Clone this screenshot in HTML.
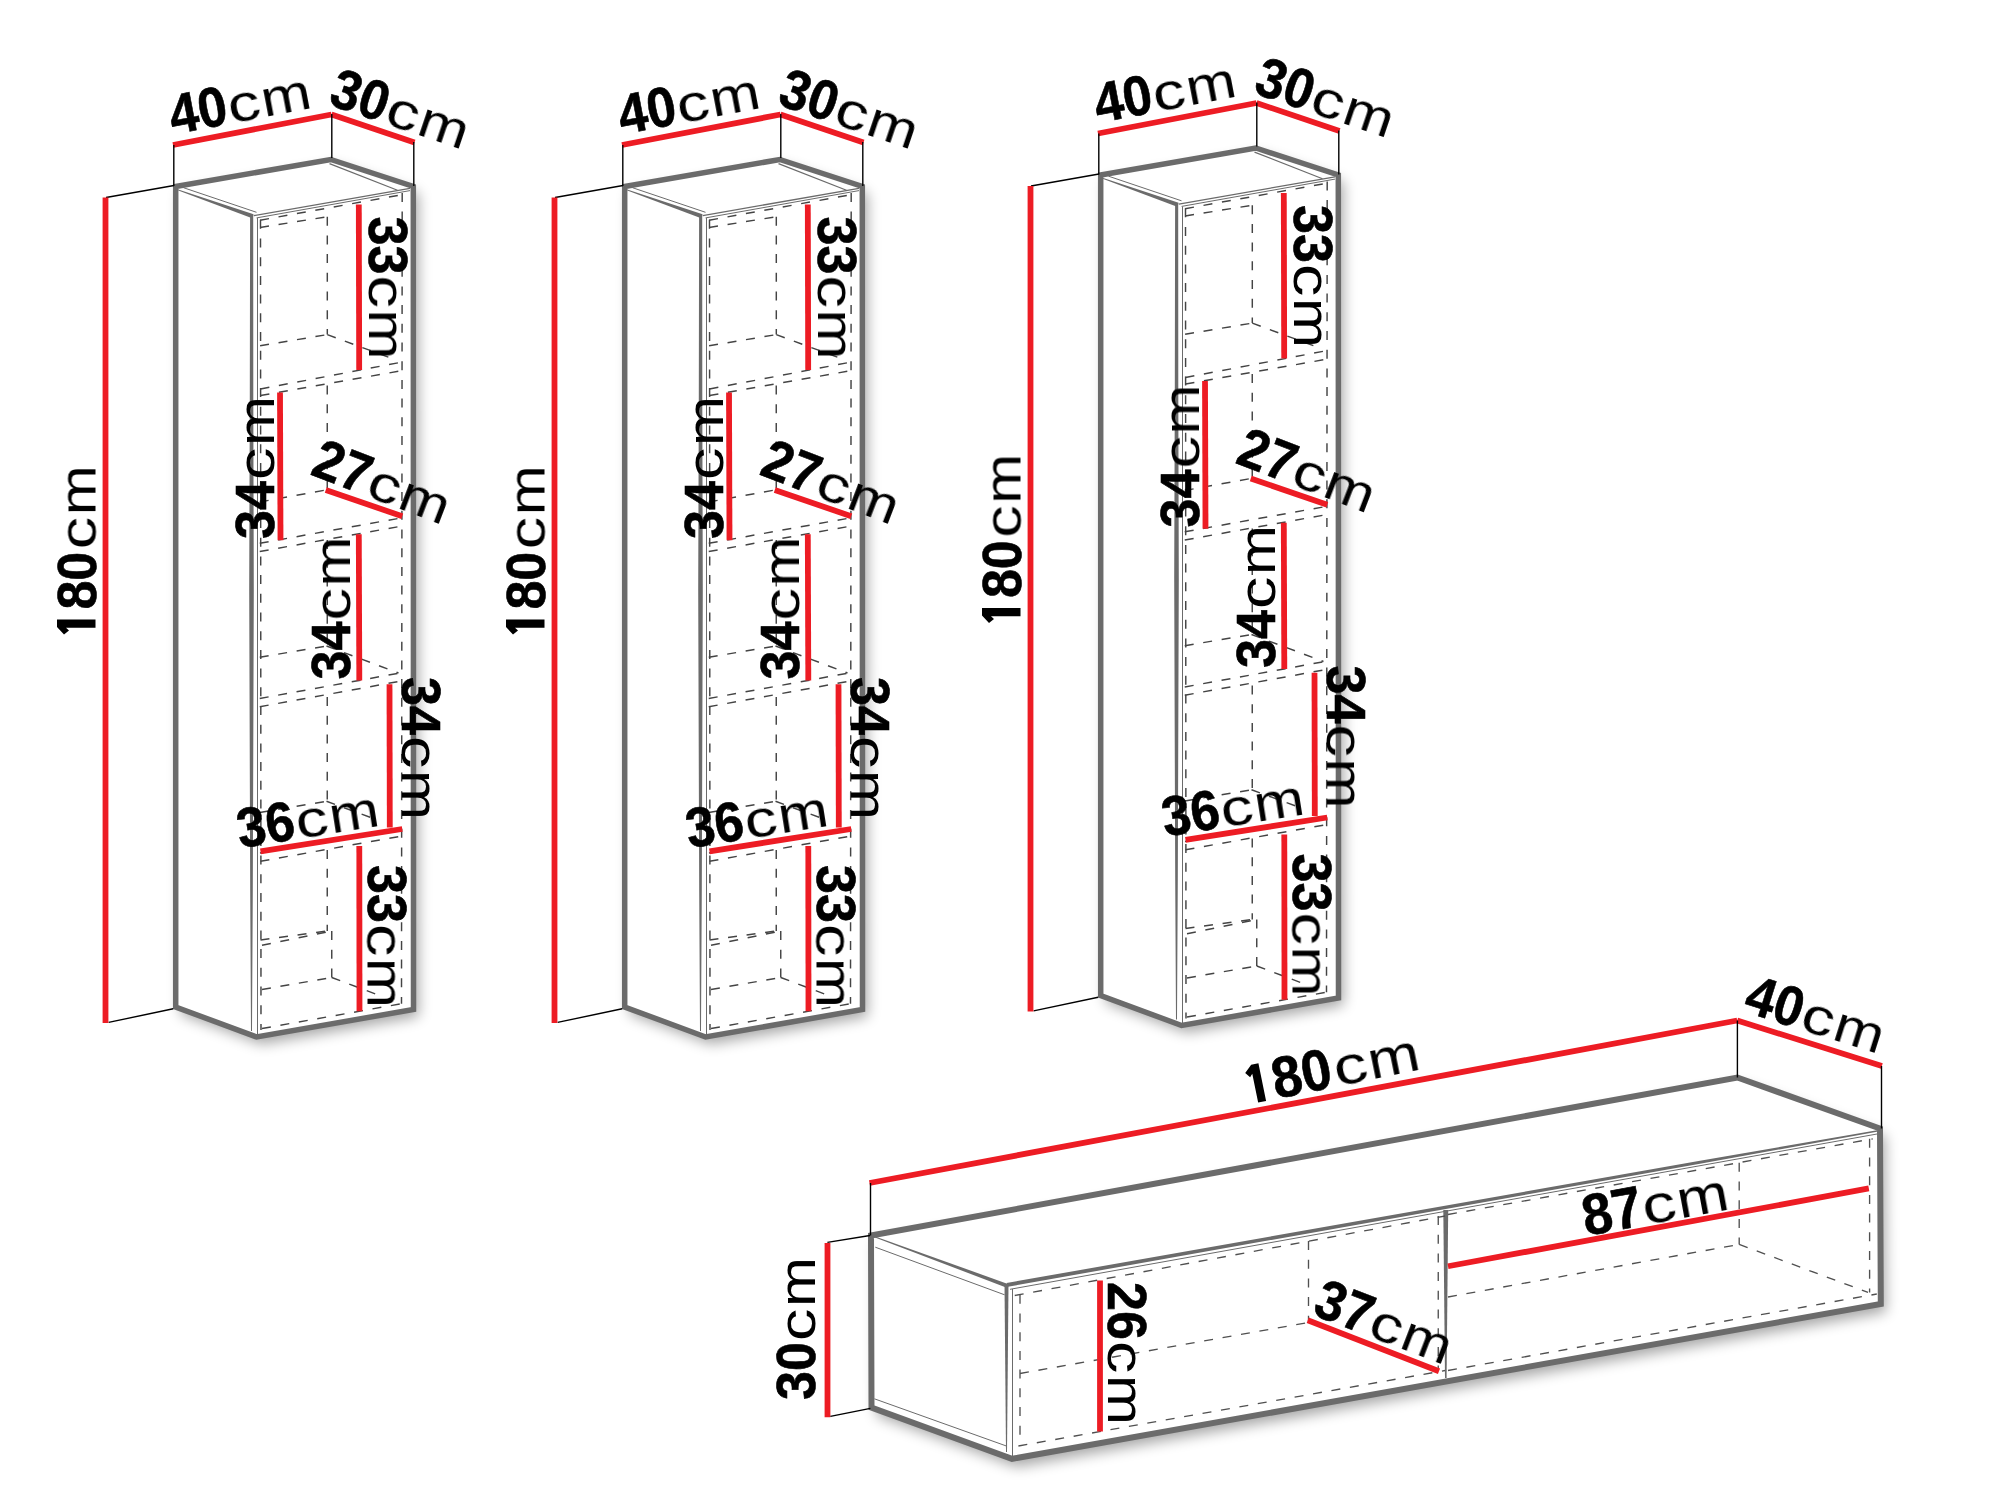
<!DOCTYPE html>
<html><head><meta charset="utf-8"><style>
html,body{margin:0;padding:0;background:#fff;width:2000px;height:1500px;overflow:hidden}
svg{display:block}
text{font-family:"Liberation Sans",sans-serif;fill:#000}
.cm{font-weight:normal}
</style></head><body>
<svg width="2000" height="1500" viewBox="0 0 2000 1500">
<defs><filter id="thin" x="-10%" y="-10%" width="120%" height="120%"><feMorphology operator="erode" radius="0.45"/></filter><filter id="sh" x="-20%" y="-20%" width="140%" height="140%"><feGaussianBlur stdDeviation="7"/></filter></defs>
<rect width="2000" height="1500" fill="#fff"/>
<g id="cab1"><polygon points="175.7,186.5 330.8,159.5 413.3,186.5 413.5,1009.5 256.6,1037 175.7,1007" fill="#000" opacity="0.35" filter="url(#sh)" transform="translate(5 7)"/><polygon points="175.7,186.5 330.8,159.5 413.3,186.5 413.5,1009.5 256.6,1037 175.7,1007" fill="#fff" stroke="#6b6b6b" stroke-width="5.5" stroke-linejoin="miter"/><polygon points="177.5,189.2 253.6,214.2 252.2,218.3 178.3,190.4" fill="#6b6b6b"/><line x1="183.5" y1="187.7" x2="256.5" y2="212.3" stroke="#6b6b6b" stroke-width="1" stroke-linecap="butt"/><line x1="329.5" y1="163.6" x2="397.5" y2="190.3" stroke="#6b6b6b" stroke-width="1.2" stroke-linecap="butt"/><line x1="253.8" y1="215.6" x2="410" y2="188.3" stroke="#6b6b6b" stroke-width="1.3" stroke-linecap="butt"/><line x1="256.6" y1="217.9" x2="410" y2="190.6" stroke="#6b6b6b" stroke-width="1" stroke-linecap="butt"/><polygon points="250.1,215 249.8,400 249.2,590 250.2,890 251.0,1031 252.0,1031 252.8,890 253.8,590 253.3,400 253.2,215" fill="#6b6b6b"/><line x1="257.5" y1="218" x2="257.5" y2="1034.5" stroke="#6b6b6b" stroke-width="1" stroke-linecap="butt"/><line x1="260.1" y1="220.2" x2="402.5" y2="194.6" stroke="#444444" stroke-width="1.45" stroke-linecap="butt" stroke-dasharray="9 9.7"/><line x1="260.5" y1="219.8" x2="261" y2="1030" stroke="#444444" stroke-width="1.45" stroke-linecap="butt" stroke-dasharray="9 9.7"/><line x1="402.2" y1="192.9" x2="401.5" y2="1003.75" stroke="#444444" stroke-width="1.45" stroke-linecap="butt" stroke-dasharray="9 9.7"/><line x1="262" y1="1028.5" x2="401.5" y2="1003.75" stroke="#444444" stroke-width="1.45" stroke-linecap="butt" stroke-dasharray="9 9.7"/><line x1="260.1" y1="227.5" x2="327.3" y2="216.7" stroke="#444444" stroke-width="1.45" stroke-linecap="butt" stroke-dasharray="9 9.7"/><line x1="327.3" y1="216.7" x2="327.3" y2="334.6" stroke="#444444" stroke-width="1.45" stroke-linecap="butt" stroke-dasharray="9 9.7"/><line x1="260.1" y1="345.8" x2="327.3" y2="334.6" stroke="#444444" stroke-width="1.45" stroke-linecap="butt" stroke-dasharray="9 9.7"/><line x1="327.3" y1="334.6" x2="396" y2="360" stroke="#444444" stroke-width="1.45" stroke-linecap="butt" stroke-dasharray="9 9.7"/><line x1="260.5" y1="389" x2="400" y2="362.5" stroke="#444444" stroke-width="1.45" stroke-linecap="butt" stroke-dasharray="9 9.7"/><line x1="260.5" y1="395.5" x2="400" y2="371" stroke="#444444" stroke-width="1.45" stroke-linecap="butt" stroke-dasharray="9 9.7"/><line x1="327.25" y1="385.5" x2="327.25" y2="490" stroke="#444444" stroke-width="1.45" stroke-linecap="butt" stroke-dasharray="9 9.7"/><line x1="259.75" y1="502" x2="325.75" y2="490" stroke="#444444" stroke-width="1.45" stroke-linecap="butt" stroke-dasharray="9 9.7"/><line x1="259.75" y1="543.25" x2="402.25" y2="517.75" stroke="#444444" stroke-width="1.45" stroke-linecap="butt" stroke-dasharray="9 9.7"/><line x1="259.75" y1="551.5" x2="402.25" y2="526" stroke="#444444" stroke-width="1.45" stroke-linecap="butt" stroke-dasharray="9 9.7"/><line x1="327.25" y1="540" x2="327.25" y2="646" stroke="#444444" stroke-width="1.45" stroke-linecap="butt" stroke-dasharray="9 9.7"/><line x1="259.75" y1="657.25" x2="326.5" y2="646" stroke="#444444" stroke-width="1.45" stroke-linecap="butt" stroke-dasharray="9 9.7"/><line x1="326.5" y1="646" x2="398.5" y2="673" stroke="#444444" stroke-width="1.45" stroke-linecap="butt" stroke-dasharray="9 9.7"/><line x1="259.75" y1="698.5" x2="400" y2="673" stroke="#444444" stroke-width="1.45" stroke-linecap="butt" stroke-dasharray="9 9.7"/><line x1="259.75" y1="706.75" x2="400" y2="681.25" stroke="#444444" stroke-width="1.45" stroke-linecap="butt" stroke-dasharray="9 9.7"/><line x1="327.25" y1="697" x2="327.25" y2="801" stroke="#444444" stroke-width="1.45" stroke-linecap="butt" stroke-dasharray="9 9.7"/><line x1="259.75" y1="812.5" x2="326.5" y2="801.25" stroke="#444444" stroke-width="1.45" stroke-linecap="butt" stroke-dasharray="9 9.7"/><line x1="326.5" y1="801.25" x2="377.5" y2="820" stroke="#444444" stroke-width="1.45" stroke-linecap="butt" stroke-dasharray="9 9.7"/><line x1="260" y1="853" x2="402" y2="828" stroke="#444444" stroke-width="1.45" stroke-linecap="butt" stroke-dasharray="9 9.7"/><line x1="260.5" y1="861.25" x2="402" y2="836" stroke="#444444" stroke-width="1.45" stroke-linecap="butt" stroke-dasharray="9 9.7"/><line x1="327.25" y1="850" x2="327.25" y2="931" stroke="#444444" stroke-width="1.45" stroke-linecap="butt" stroke-dasharray="9 9.7"/><line x1="260.5" y1="940" x2="327.25" y2="931" stroke="#444444" stroke-width="1.45" stroke-linecap="butt" stroke-dasharray="9 9.7"/><line x1="262" y1="945.25" x2="331.75" y2="931" stroke="#444444" stroke-width="1.45" stroke-linecap="butt" stroke-dasharray="9 9.7"/><line x1="331.75" y1="931" x2="331.75" y2="977.5" stroke="#444444" stroke-width="1.45" stroke-linecap="butt" stroke-dasharray="9 9.7"/><line x1="262" y1="989.5" x2="331.75" y2="977.5" stroke="#444444" stroke-width="1.45" stroke-linecap="butt" stroke-dasharray="9 9.7"/><line x1="331.75" y1="977.5" x2="377.5" y2="994.75" stroke="#444444" stroke-width="1.45" stroke-linecap="butt" stroke-dasharray="9 9.7"/><line x1="173" y1="145" x2="331.5" y2="114.5" stroke="#ed1c24" stroke-width="5.8" stroke-linecap="butt"/><line x1="331.5" y1="114.5" x2="414.5" y2="142.5" stroke="#ed1c24" stroke-width="5.8" stroke-linecap="butt"/><line x1="173.8" y1="145" x2="173.8" y2="186" stroke="#000" stroke-width="1.4" stroke-linecap="butt"/><line x1="331.8" y1="114" x2="331.8" y2="158" stroke="#000" stroke-width="1.4" stroke-linecap="butt"/><line x1="413.8" y1="142" x2="413.8" y2="186" stroke="#000" stroke-width="1.4" stroke-linecap="butt"/><line x1="106" y1="197.5" x2="174" y2="185.5" stroke="#000" stroke-width="1.4" stroke-linecap="butt"/><line x1="108.6" y1="1022.4" x2="173.2" y2="1008.8" stroke="#000" stroke-width="1.4" stroke-linecap="butt"/><line x1="105.5" y1="197.5" x2="105.5" y2="1023" stroke="#ed1c24" stroke-width="5.8" stroke-linecap="butt"/><line x1="358.8" y1="204.4" x2="359.2" y2="370" stroke="#ed1c24" stroke-width="5.8" stroke-linecap="butt"/><line x1="280" y1="392.5" x2="280.5" y2="540.25" stroke="#ed1c24" stroke-width="5.8" stroke-linecap="butt"/><line x1="358.8" y1="534.25" x2="359.3" y2="680.5" stroke="#ed1c24" stroke-width="5.8" stroke-linecap="butt"/><line x1="389.5" y1="684.25" x2="389.8" y2="827.5" stroke="#ed1c24" stroke-width="5.8" stroke-linecap="butt"/><line x1="260.5" y1="851.3" x2="402.25" y2="829" stroke="#ed1c24" stroke-width="5.8" stroke-linecap="butt"/><line x1="359.3" y1="846" x2="359.5" y2="1011.25" stroke="#ed1c24" stroke-width="5.8" stroke-linecap="butt"/><line x1="325.75" y1="490" x2="402.25" y2="516.25" stroke="#ed1c24" stroke-width="5.8" stroke-linecap="butt"/><g transform="translate(173 134.5) rotate(-10.8)"><text transform="scale(0.93 1)" x="0.00" font-size="56" font-weight="bold" stroke="#000" stroke-width="0.6">40</text><g filter="url(#thin)"><text transform="translate(59.1 0) scale(1.16 0.94)" font-size="56">c</text><text transform="translate(93.1 0) scale(1.07 0.94)" font-size="56">m</text></g></g><g transform="translate(327 104) rotate(18.7)"><text transform="scale(0.93 1)" x="0.00" font-size="56" font-weight="bold" stroke="#000" stroke-width="0.6">30</text><g filter="url(#thin)"><text transform="translate(59.1 0) scale(1.16 0.94)" font-size="56">c</text><text transform="translate(93.1 0) scale(1.07 0.94)" font-size="56">m</text></g></g><g transform="translate(369 216.5) rotate(90)"><text transform="scale(0.93 1)" x="0.00" font-size="56" font-weight="bold" stroke="#000" stroke-width="0.6">33</text><g filter="url(#thin)"><text transform="translate(59.1 0) scale(1.16 0.94)" font-size="56">c</text><text transform="translate(93.1 0) scale(1.07 0.94)" font-size="56">m</text></g></g><g transform="translate(274 539) rotate(-90)"><text transform="scale(0.93 1)" x="0.00" font-size="56" font-weight="bold" stroke="#000" stroke-width="0.6">34</text><g filter="url(#thin)"><text transform="translate(59.1 0) scale(1.16 0.94)" font-size="56">c</text><text transform="translate(93.1 0) scale(1.07 0.94)" font-size="56">m</text></g></g><g transform="translate(309 474) rotate(21)"><text transform="scale(0.93 1)" x="0.00" font-size="56" font-weight="bold" stroke="#000" stroke-width="0.6">27</text><g filter="url(#thin)"><text transform="translate(59.1 0) scale(1.16 0.94)" font-size="56">c</text><text transform="translate(93.1 0) scale(1.07 0.94)" font-size="56">m</text></g></g><g transform="translate(350 679.5) rotate(-90)"><text transform="scale(0.93 1)" x="0.00" font-size="56" font-weight="bold" stroke="#000" stroke-width="0.6">34</text><g filter="url(#thin)"><text transform="translate(59.1 0) scale(1.16 0.94)" font-size="56">c</text><text transform="translate(93.1 0) scale(1.07 0.94)" font-size="56">m</text></g></g><g transform="translate(402 677) rotate(90)"><text transform="scale(0.93 1)" x="0.00" font-size="56" font-weight="bold" stroke="#000" stroke-width="0.6">34</text><g filter="url(#thin)"><text transform="translate(59.1 0) scale(1.16 0.94)" font-size="56">c</text><text transform="translate(93.1 0) scale(1.07 0.94)" font-size="56">m</text></g></g><g transform="translate(240 848) rotate(-9)"><text transform="scale(0.93 1)" x="0.00" font-size="56" font-weight="bold" stroke="#000" stroke-width="0.6">36</text><g filter="url(#thin)"><text transform="translate(59.1 0) scale(1.16 0.94)" font-size="56">c</text><text transform="translate(93.1 0) scale(1.07 0.94)" font-size="56">m</text></g></g><g transform="translate(367.5 865) rotate(90)"><text transform="scale(0.93 1)" x="0.00" font-size="56" font-weight="bold" stroke="#000" stroke-width="0.6">33</text><g filter="url(#thin)"><text transform="translate(59.1 0) scale(1.16 0.94)" font-size="56">c</text><text transform="translate(93.1 0) scale(1.07 0.94)" font-size="56">m</text></g></g><g transform="translate(95.5 635) rotate(-90)"><polygon points="0.5,-31.5 8,-38.5 15.4,-38.5 15.4,0 7.3,0 7.3,-29.5 4.5,-26.5"/><text transform="scale(0.93 1)" x="27.31" font-size="56" font-weight="bold" stroke="#000" stroke-width="0.6">80</text><g filter="url(#thin)"><text transform="translate(85.8 0) scale(1.16 0.94)" font-size="56">c</text><text transform="translate(119.8 0) scale(1.07 0.94)" font-size="56">m</text></g></g></g>
<use href="#cab1" transform="translate(449 0)"/>
<use href="#cab1" transform="translate(925 -11.5)"/>
<polygon points="871,1235.5 1737.4,1077.5 1880,1128.5 1880.8,1304 1012,1458.8 871.5,1407.6" fill="#000" opacity="0.35" filter="url(#sh)" transform="translate(5 8)"/>
<polygon points="871,1235.5 1737.4,1077.5 1880,1128.5 1880.8,1304 1012,1458.8 871.5,1407.6" fill="#fff" stroke="#6b6b6b" stroke-width="6" stroke-linejoin="miter"/>
<polygon points="874.5,1236.2 1006.5,1283.4 1005.5,1287.2 875,1237.6" fill="#6b6b6b"/>
<line x1="875.3" y1="1247.2" x2="1004.6" y2="1294.8" stroke="#6b6b6b" stroke-width="1" stroke-linecap="butt"/>
<line x1="874.4" y1="1398.8" x2="1006.4" y2="1446" stroke="#6b6b6b" stroke-width="1" stroke-linecap="butt"/>
<polygon points="1006.5,1283 1700,1160.8 1877,1130.25 1877,1131.75 1700,1163.8 1006.5,1287" fill="#6b6b6b"/>
<line x1="1010" y1="1289.3" x2="1877" y2="1134" stroke="#6b6b6b" stroke-width="1" stroke-linecap="butt"/>
<polygon points="1004.5,1284 1008.5,1284 1007,1452 1006,1452" fill="#6b6b6b"/>
<line x1="1012.5" y1="1289" x2="1012.5" y2="1456" stroke="#6b6b6b" stroke-width="1" stroke-linecap="butt"/>
<polygon points="1443.3,1210 1448.2,1210 1446.6,1378 1445,1378" fill="#6b6b6b"/>
<line x1="1014.75" y1="1295.5" x2="1445" y2="1216" stroke="#505050" stroke-width="1.35" stroke-linecap="butt" stroke-dasharray="9 9.7"/>
<line x1="1020" y1="1294.8" x2="1020" y2="1437.2" stroke="#505050" stroke-width="1.35" stroke-linecap="butt" stroke-dasharray="9 9.7"/>
<line x1="1438.25" y1="1216" x2="1438.25" y2="1369" stroke="#505050" stroke-width="1.35" stroke-linecap="butt" stroke-dasharray="9 9.7"/>
<line x1="1020" y1="1373.5" x2="1308.5" y2="1322.5" stroke="#505050" stroke-width="1.35" stroke-linecap="butt" stroke-dasharray="9 9.7"/>
<line x1="1308.5" y1="1241" x2="1308.5" y2="1321" stroke="#505050" stroke-width="1.35" stroke-linecap="butt" stroke-dasharray="9 9.7"/>
<line x1="1018.4" y1="1446" x2="1445" y2="1370.5" stroke="#505050" stroke-width="1.35" stroke-linecap="butt" stroke-dasharray="9 9.7"/>
<line x1="1448" y1="1214.5" x2="1872.8" y2="1138.8" stroke="#505050" stroke-width="1.35" stroke-linecap="butt" stroke-dasharray="9 9.7"/>
<line x1="1739.2" y1="1162.8" x2="1739.2" y2="1244.4" stroke="#505050" stroke-width="1.35" stroke-linecap="butt" stroke-dasharray="9 9.7"/>
<line x1="1448" y1="1297" x2="1739.2" y2="1244.4" stroke="#505050" stroke-width="1.35" stroke-linecap="butt" stroke-dasharray="9 9.7"/>
<line x1="1739.2" y1="1244.4" x2="1868" y2="1292.4" stroke="#505050" stroke-width="1.35" stroke-linecap="butt" stroke-dasharray="9 9.7"/>
<line x1="1869.6" y1="1138.8" x2="1869.6" y2="1292.4" stroke="#505050" stroke-width="1.35" stroke-linecap="butt" stroke-dasharray="9 9.7"/>
<line x1="1448" y1="1370.5" x2="1876.8" y2="1294" stroke="#505050" stroke-width="1.35" stroke-linecap="butt" stroke-dasharray="9 9.7"/>
<line x1="869.5" y1="1183" x2="1737.2" y2="1020.5" stroke="#ed1c24" stroke-width="5.8" stroke-linecap="butt"/>
<line x1="1737.2" y1="1020.5" x2="1881.9" y2="1066" stroke="#ed1c24" stroke-width="5.8" stroke-linecap="butt"/>
<line x1="827.5" y1="1243" x2="827.5" y2="1417.2" stroke="#ed1c24" stroke-width="5.8" stroke-linecap="butt"/>
<line x1="1100" y1="1280.5" x2="1100" y2="1431.6" stroke="#ed1c24" stroke-width="5.8" stroke-linecap="butt"/>
<line x1="1307.75" y1="1320.25" x2="1439" y2="1371.25" stroke="#ed1c24" stroke-width="5.8" stroke-linecap="butt"/>
<line x1="1448" y1="1266.25" x2="1868.8" y2="1188.4" stroke="#ed1c24" stroke-width="5.8" stroke-linecap="butt"/>
<line x1="870.5" y1="1183" x2="870.5" y2="1235.5" stroke="#000" stroke-width="1.4" stroke-linecap="butt"/>
<line x1="1737.4" y1="1020.5" x2="1737.4" y2="1077.5" stroke="#000" stroke-width="1.4" stroke-linecap="butt"/>
<line x1="1881.5" y1="1066" x2="1881.5" y2="1128.5" stroke="#000" stroke-width="1.4" stroke-linecap="butt"/>
<line x1="827.4" y1="1242.4" x2="870" y2="1235.5" stroke="#000" stroke-width="1.4" stroke-linecap="butt"/>
<line x1="830.4" y1="1416.4" x2="870.4" y2="1408.4" stroke="#000" stroke-width="1.4" stroke-linecap="butt"/>
<g transform="translate(1251 1104) rotate(-11.5)"><polygon points="0.5,-31.5 8,-38.5 15.4,-38.5 15.4,0 7.3,0 7.3,-29.5 4.5,-26.5"/><text transform="scale(0.93 1)" x="27.31" font-size="58" font-weight="bold" stroke="#000" stroke-width="0.6">80</text><g filter="url(#thin)"><text transform="translate(87.9 0) scale(1.16 0.94)" font-size="58">c</text><text transform="translate(123.1 0) scale(1.07 0.94)" font-size="58">m</text></g></g>
<g transform="translate(1742 1011) rotate(17.5)"><text transform="scale(0.93 1)" x="0.00" font-size="56" font-weight="bold" stroke="#000" stroke-width="0.6">40</text><g filter="url(#thin)"><text transform="translate(59.1 0) scale(1.16 0.94)" font-size="56">c</text><text transform="translate(93.1 0) scale(1.07 0.94)" font-size="56">m</text></g></g>
<g transform="translate(815 1400) rotate(-90)"><text transform="scale(0.93 1)" x="0.00" font-size="56" font-weight="bold" stroke="#000" stroke-width="0.6">30</text><g filter="url(#thin)"><text transform="translate(59.1 0) scale(1.16 0.94)" font-size="56">c</text><text transform="translate(93.1 0) scale(1.07 0.94)" font-size="56">m</text></g></g>
<g transform="translate(1108 1282) rotate(90)"><text transform="scale(0.93 1)" x="0.00" font-size="56" font-weight="bold" stroke="#000" stroke-width="0.6">26</text><g filter="url(#thin)"><text transform="translate(59.1 0) scale(1.16 0.94)" font-size="56">c</text><text transform="translate(93.1 0) scale(1.07 0.94)" font-size="56">m</text></g></g>
<g transform="translate(1311 1314) rotate(21)"><text transform="scale(0.93 1)" x="0.00" font-size="56" font-weight="bold" stroke="#000" stroke-width="0.6">37</text><g filter="url(#thin)"><text transform="translate(59.1 0) scale(1.16 0.94)" font-size="56">c</text><text transform="translate(93.1 0) scale(1.07 0.94)" font-size="56">m</text></g></g>
<g transform="translate(1586 1236) rotate(-10.5)"><text transform="scale(0.93 1)" x="0.00" font-size="58" font-weight="bold" stroke="#000" stroke-width="0.6">87</text><g filter="url(#thin)"><text transform="translate(60.5 0) scale(1.16 0.94)" font-size="58">c</text><text transform="translate(95.7 0) scale(1.07 0.94)" font-size="58">m</text></g></g>
</svg></body></html>
